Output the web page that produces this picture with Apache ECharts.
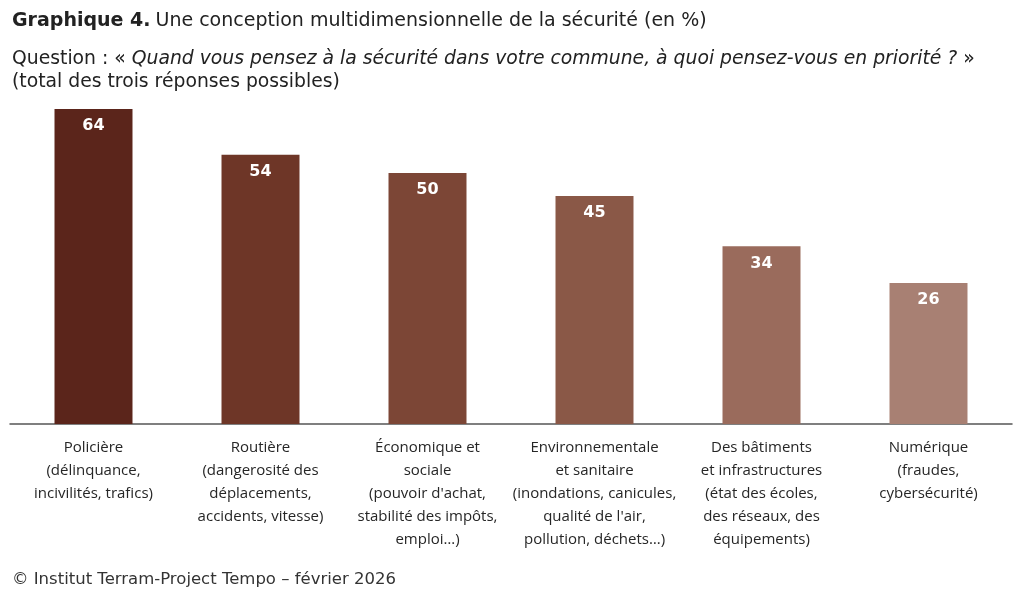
<!DOCTYPE html>
<html><head><meta charset="utf-8">
<script src="https://cdn.jsdelivr.net/npm/echarts@6/dist/echarts.min.js"></script>
<style>html,body{margin:0;padding:0;background:#fff}#c{width:1024px;height:599px}</style>
</head><body><div id="c"></div>
<script>
const categories = [
  'Policière\n(délinquance,\nincivilités, trafics)',
  'Routière\n(dangerosité des\ndéplacements,\naccidents, vitesse)',
  'Économique et\nsociale\n(pouvoir d\'achat,\nstabilité des impôts,\nemploi…)',
  'Environnementale\net sanitaire\n(inondations, canicules,\nqualité de l\'air,\npollution, déchets…)',
  'Des bâtiments\net infrastructures\n(état des écoles,\ndes réseaux, des\néquipements)',
  'Numérique\n(fraudes,\ncybersécurité)'
];
const values = [64, 54, 50, 45, 34, 26];
const barColors = ['#5b251b', '#6e3627', '#7c4636', '#8a5847', '#9a6b5c', '#a88073'];
const Y_MIN = -4.8, Y_MAX = 64;
const FONT = '"Open Sans", sans-serif';
const TFONT = '"DejaVu Sans", sans-serif';

const chart = echarts.init(document.getElementById('c'));
chart.setOption({
  backgroundColor: '#fff',
  animation: false,
  title: [
    { left: 7, top: 7, text: '{b|Graphique 4.} {n|Une conception multidimensionnelle de la sécurité (en %)}',
      textStyle: { fontWeight: 'normal', rich: {
        b: { fontFamily: TFONT, fontSize: 19, fontWeight: 'bold', color: '#222' },
        n: { fontFamily: TFONT, fontSize: 19, fontWeight: 'normal', color: '#222' } } } },
    { left: 7, top: 43, text: '{n|Question : « }{i|Quand vous pensez à la sécurité dans votre commune, à quoi pensez-vous en priorité ?}{n| »}\n{n|(total des trois réponses possibles)}',
      textStyle: { fontWeight: 'normal', rich: {
        n: { fontFamily: TFONT, fontSize: 18.8, fontWeight: 'normal', color: '#222', lineHeight: 23 },
        i: { fontFamily: TFONT, fontSize: 18.8, fontWeight: 'normal', fontStyle: 'italic', color: '#222', lineHeight: 23 } } } },
    { left: 7, top: 566, text: '© Institut Terram-Project Tempo – février 2026',
      textStyle: { fontFamily: TFONT, fontSize: 16.5, fontWeight: 'normal', color: '#333' } }
  ],
  grid: { left: 10, right: 12, top: 109, bottom: 175, containLabel: false },
  xAxis: {
    type: 'category', data: categories,
    axisLine: { onZero: false, lineStyle: { color: '#555', width: 1.5 } },
    axisTick: { show: false },
    axisLabel: { interval: 0, margin: 12, fontFamily: FONT, fontSize: 15, lineHeight: 23, color: '#262626', hideOverlap: false }
  },
  yAxis: { type: 'value', min: Y_MIN, max: Y_MAX, show: false, splitLine: { show: false } },
  series: [{
    type: 'custom',
    data: values.map((v, i) => [i, v]),
    encode: { x: 0, y: 1 },
    renderItem: function (params, api) {
      const i = api.value(0), v = api.value(1);
      const top = api.coord([i, v]);
      const base = api.coord([i, Y_MIN]);
      const w = api.size([1, 0])[0] * 0.467;
      return { type: 'group', children: [
        { type: 'rect', shape: { x: top[0] - w / 2, y: top[1], width: w, height: base[1] - top[1] },
          style: { fill: barColors[i] } },
        { type: 'text', style: { text: String(v), x: top[0], y: top[1] + 17, align: 'center', verticalAlign: 'middle',
          fill: '#fff', font: 'bold 16px ' + TFONT } }
      ] };
    }
  }]
});
</script></body></html>
